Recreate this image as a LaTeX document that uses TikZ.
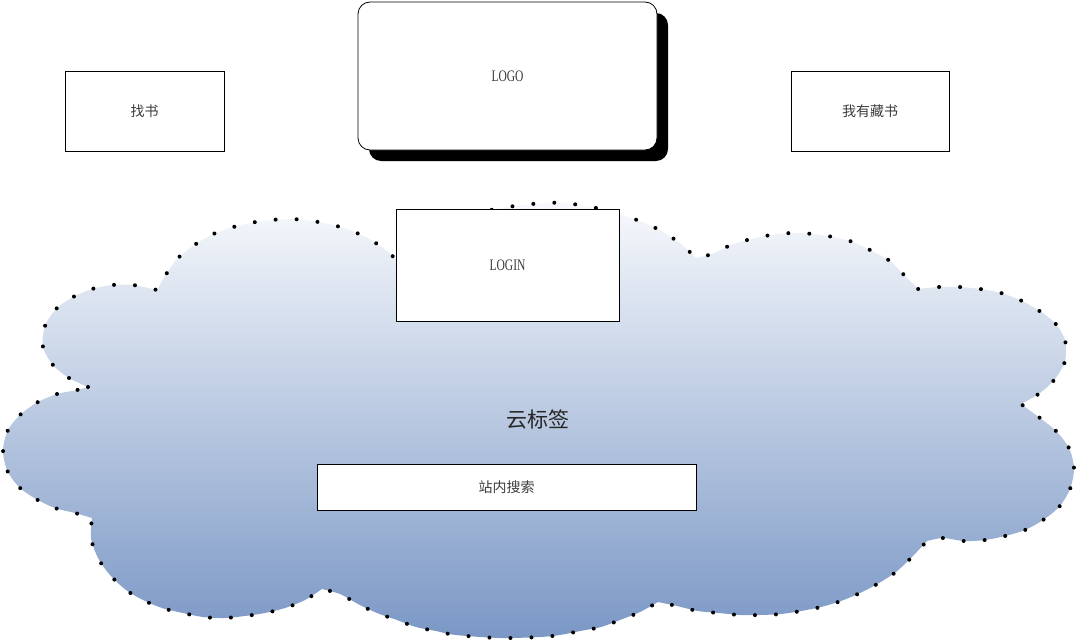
\documentclass[tikz,border=0pt]{standalone}
\usepackage{fontspec}
\usepackage{xcolor}
\usepackage{tikz}
\usetikzlibrary{shadows, positioning}
\newfontfamily\cjkfont{Noto Sans CJK SC}
\newfontfamily\logofont[FakeStretch=0.72]{Liberation Serif}
\definecolor{cloudTop}{RGB}{247, 249, 252}
\definecolor{cloudBottom}{RGB}{122, 151, 197}
\definecolor{labelGray}{RGB}{60, 60, 60}

\begin{document}
\begin{tikzpicture}[x=1pt, y=-1pt,
    plainbox/.style={draw=black, line width=0.8pt, fill=white, inner sep=0pt, text=labelGray},
    logobox/.style={plainbox, rounded corners=12pt,
        drop shadow={shadow xshift=11pt, shadow yshift=-11pt, fill=black, opacity=1}},
    cjklabel/.style={font=\cjkfont\fontsize{14}{16}\selectfont},
    latinlabel/.style={font=\logofont\fontsize{16}{18}\selectfont},
    clouddots/.style={draw=black, line width=4pt, line cap=round, dash pattern=on 0pt off 21pt}]
    \useasboundingbox (0,0) rectangle (1077,640);

    % Cloud
    \path[clouddots, top color=cloudTop, bottom color=cloudBottom]
        plot[smooth] coordinates {(88,387) (69,378) (53,365) (43,347) (45,326) (56,309) (73,297) (92,289) (112,285) (133,285) (157,290)}
        -- plot[smooth] coordinates {(157,290) (165,276) (177,259) (193,246) (211,235) (230,228) (250,223) (271,220) (292,219) (312,221) (333,225) (352,231) (371,240) (388,252) (405,268)}
        -- plot[smooth] coordinates {(405,268) (430,235) (465,216) (502,208) (523,205) (544,203) (565,203) (585,206) (606,210) (625,216) (645,223) (663,232) (681,244) (696,258)}
        -- plot[smooth] coordinates {(696,258) (712,254) (731,245) (751,239) (771,235) (792,233) (813,234) (833,237) (853,242) (872,251) (890,261) (905,276) (918,289)}
        -- plot[smooth] coordinates {(918,289) (939,287) (960,287) (980,289) (1001,293) (1020,300) (1038,310) (1055,323) (1065,340) (1065,361) (1055,379) (1040,393) (1021,404)}
        -- plot[smooth] coordinates {(1021,404) (1040,418) (1056,431) (1069,448) (1074,468) (1070,489) (1059,507) (1043,520) (1025,530) (1005,536) (985,540) (964,541) (943,538) (927,541)}
        -- plot[smooth] coordinates {(927,541) (911,558) (896,572) (879,583) (860,593) (841,601) (821,607) (801,611) (781,614) (760,615) (740,615) (719,613) (698,611) (677,606) (658,602)}
        -- plot[smooth] coordinates {(658,602) (640,612) (620,620) (601,627) (580,631) (560,635) (540,637) (500,638) (456,635) (436,631) (416,627) (397,620) (377,613) (358,604) (340,594) (322,589)}
        -- plot[smooth] coordinates {(322,589) (305,600) (285,608) (265,613) (245,616) (224,618) (203,617) (183,613) (162,608) (143,600) (126,590) (110,575) (98,558) (91,538) (92,518)}
        -- plot[smooth] coordinates {(92,518) (75,513) (55,508) (36,499) (19,487) (7,470) (3,450) (8,430) (21,414) (38,402) (57,394) (77,390) (88,387)}
        -- cycle;

    % Top row
    \node[plainbox, cjklabel, minimum width=159pt, minimum height=80pt] (findbook) at (144.5,111) {找书};
    \node[logobox, latinlabel, minimum width=299pt, minimum height=148pt] (logo) at (507.5,76) {LOGO};
    \node[plainbox, cjklabel, minimum width=158pt, minimum height=80pt] (mybooks) at (870,111) {我有藏书};

    % Inside the cloud
    \node[plainbox, latinlabel, minimum width=223pt, minimum height=112pt] (login) at (507.5,265) {LOGIN};
    \node[font=\cjkfont\fontsize{21}{24}\selectfont, text=black!85] (cloudlabel) at (538,419) {云标签};
    \node[plainbox, cjklabel, minimum width=379pt, minimum height=46pt] (search) at (506.5,487) {站内搜索};
\end{tikzpicture}
\end{document}
